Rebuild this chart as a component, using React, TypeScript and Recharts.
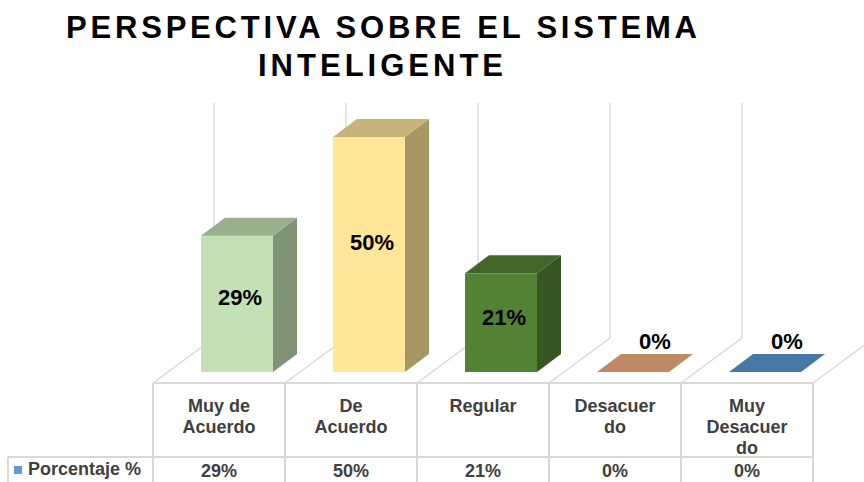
import { BarChart, Bar, XAxis, YAxis, CartesianGrid, Cell, LabelList, Legend } from 'recharts';

// chart values
const categories = ['Muy de Acuerdo', 'De Acuerdo', 'Regular', 'Desacuerdo', 'Muy Desacuerdo'];
const tickLines = [['Muy de', 'Acuerdo'], ['De', 'Acuerdo'], ['Regular'], ['Desacuer', 'do'], ['Muy', 'Desacuer', 'do']];
const porcentaje = [29, 50, 21, 0, 0];
const seriesName = 'Porcentaje %';
const titleLines = ['PERSPECTIVA SOBRE EL SISTEMA', 'INTELIGENTE'];

const frontColors = ['#c5e0b4', '#ffe699', '#548235', '#f4b183', '#5b9bd5'];

const data = categories.map((name, i) => ({ name, value: porcentaje[i] }));

const FONT = '"Liberation Sans", Arial, sans-serif';
const GRID = '#d9d9d9';
const TEXT_GRAY = '#404040';
// 3d projection
const FLOOR_DX = 61;
const FLOOR_DY = 45;
const SHIFT_X = 18;
const SHIFT_Y = 11;
const DEPTH_X = 24;
const DEPTH_Y = 18;
const CHART_H = 482;

const shade = (hex: string, k: number) => {
  const n = parseInt(hex.slice(1), 16);
  const r = Math.round(((n >> 16) & 255) * k);
  const g = Math.round(((n >> 8) & 255) * k);
  const b = Math.round((n & 255) * k);
  return `rgb(${r},${g},${b})`;
};

const Bar3D = (props: any) => {
  const { x, y, width, height, fill } = props;
  const fx = x + SHIFT_X;
  const ty = y - SHIFT_Y;
  const by = y + height - SHIFT_Y;
  const h = Math.max(height, 0);
  return (
    <g>
      {h > 0 && <rect x={fx} y={ty} width={width} height={h} fill={fill} />}
      {h > 0 && (
        <polygon
          points={`${fx + width},${ty} ${fx + width + DEPTH_X},${ty - DEPTH_Y} ${fx + width + DEPTH_X},${by - DEPTH_Y} ${fx + width},${by}`}
          fill={shade(fill, 0.65)}
        />
      )}
      <polygon
        points={`${fx},${ty} ${fx + width},${ty} ${fx + width + DEPTH_X},${ty - DEPTH_Y} ${fx + DEPTH_X},${ty - DEPTH_Y}`}
        fill={shade(fill, 0.78)}
      />
    </g>
  );
};

const BarLabel = (props: any) => {
  const vb = props.viewBox ?? props;
  const { x, y, width, height } = vb;
  const { value } = props;
  const cx = x + width / 2 + SHIFT_X;
  const top = y - SHIFT_Y;
  const ly = value > 0 ? top + height * 0.45 : top - DEPTH_Y / 2 - 22;
  const lx = value > 0 ? cx + 3 : cx + DEPTH_X / 2 + 10;
  return (
    <text x={lx} y={ly} textAnchor="middle" dominantBaseline="central" fontFamily={FONT} fontWeight="bold" fontSize={22} fill="#000">
      {`${value}%`}
    </text>
  );
};

// back wall and floor lines, one per category boundary
const WallLine = (props: any) => {
  const { x1, y1, y2 } = props;
  const bx = x1 + FLOOR_DX;
  const by = y2 - FLOOR_DY;
  return (
    <g key={props.key}>
      <line x1={x1} y1={y2} x2={bx} y2={by} stroke={GRID} strokeWidth={1.5} />
      <line x1={bx} y1={by} x2={bx} y2={y1 - FLOOR_DY} stroke={GRID} strokeWidth={1.5} />
    </g>
  );
};

const boundaries = ({ offset, width }: any) => {
  const left = offset.left;
  const w = offset.width ?? width - offset.left - offset.right;
  return categories.map((_, i) => left + (i * w) / categories.length).concat(left + w);
};

const TableTick = (props: any) => {
  const { x, y, index } = props;
  const band = props.width && props.visibleTicksCount ? props.width / props.visibleTicksCount : 132;
  const l = x - band / 2;
  const r = x + band / 2;
  const mid = y + 74;
  const lines = tickLines[index] ?? [props.payload.value];
  return (
    <g>
      <line x1={l} y1={y} x2={r} y2={y} stroke={GRID} strokeWidth={2} />
      <line x1={l} y1={mid} x2={r} y2={mid} stroke={GRID} strokeWidth={2} />
      <line x1={l} y1={y} x2={l} y2={CHART_H} stroke={GRID} strokeWidth={2} />
      <line x1={r} y1={y} x2={r} y2={CHART_H} stroke={GRID} strokeWidth={2} />
      {index === 0 && (
        <g>
          <line x1={8} y1={mid} x2={l} y2={mid} stroke={GRID} strokeWidth={2} />
          <line x1={8} y1={mid} x2={8} y2={CHART_H} stroke={GRID} strokeWidth={2} />
        </g>
      )}
      {lines.map((t: string, i: number) => (
        <text key={i} x={x} y={y + 29 + i * 21} textAnchor="middle" fontFamily={FONT} fontWeight="bold" fontSize={18} fill={TEXT_GRAY}>
          {t}
        </text>
      ))}
      <text x={x} y={y + 94} textAnchor="middle" fontFamily={FONT} fontWeight="bold" fontSize={18} fill={TEXT_GRAY}>
        {`${porcentaje[index]}%`}
      </text>
    </g>
  );
};

const LegendCell = (props: any) => {
  const item = (props.payload ?? [])[0];
  return (
    <div style={{ display: 'flex', alignItems: 'center', fontFamily: FONT, fontWeight: 'bold', fontSize: 18, color: TEXT_GRAY, height: 25 }}>
      <span style={{ display: 'inline-block', width: 8, height: 8, background: item?.color ?? '#5b9bd5', marginLeft: 6, marginRight: 6 }} />
      {item?.value ?? seriesName}
    </div>
  );
};

export default function App() {
  return (
    <div style={{ position: 'absolute', left: 0, top: 0, width: 864, height: CHART_H, background: '#fff' }}>
      <svg width={864} height={90} style={{ position: 'absolute', left: 0, top: 0 }}>
        <text x={66} y={38} textLength={631} lengthAdjust="spacing" fontFamily={FONT} fontWeight="bold" fontSize={31} fill="#000">
          {titleLines[0]}
        </text>
        <text x={258} y={76} textLength={245} lengthAdjust="spacing" fontFamily={FONT} fontWeight="bold" fontSize={31} fill="#000">
          {titleLines[1]}
        </text>
      </svg>
      <BarChart width={864} height={CHART_H} data={data} margin={{ top: 148, right: 51, bottom: 0, left: 153 }}>
        <CartesianGrid horizontal={false} vertical={WallLine} verticalCoordinatesGenerator={boundaries} />
        <XAxis dataKey="name" height={99} axisLine={false} tickLine={false} tickSize={0} tickMargin={0} tick={TableTick} interval={0} />
        <YAxis hide type="number" domain={[0, 50]} />
        <Legend
          layout="vertical"
          align="center"
          verticalAlign="middle"
          content={LegendCell}
          wrapperStyle={{ position: 'absolute', left: 8, top: 457, width: 145, height: 25 }}
        />
        <Bar dataKey="value" name={seriesName} fill="#5b9bd5" barSize={72} shape={Bar3D} isAnimationActive={false}>
          {data.map((_, i) => (
            <Cell key={i} fill={frontColors[i]} />
          ))}
          <LabelList dataKey="value" content={BarLabel} />
        </Bar>
      </BarChart>
    </div>
  );
}
